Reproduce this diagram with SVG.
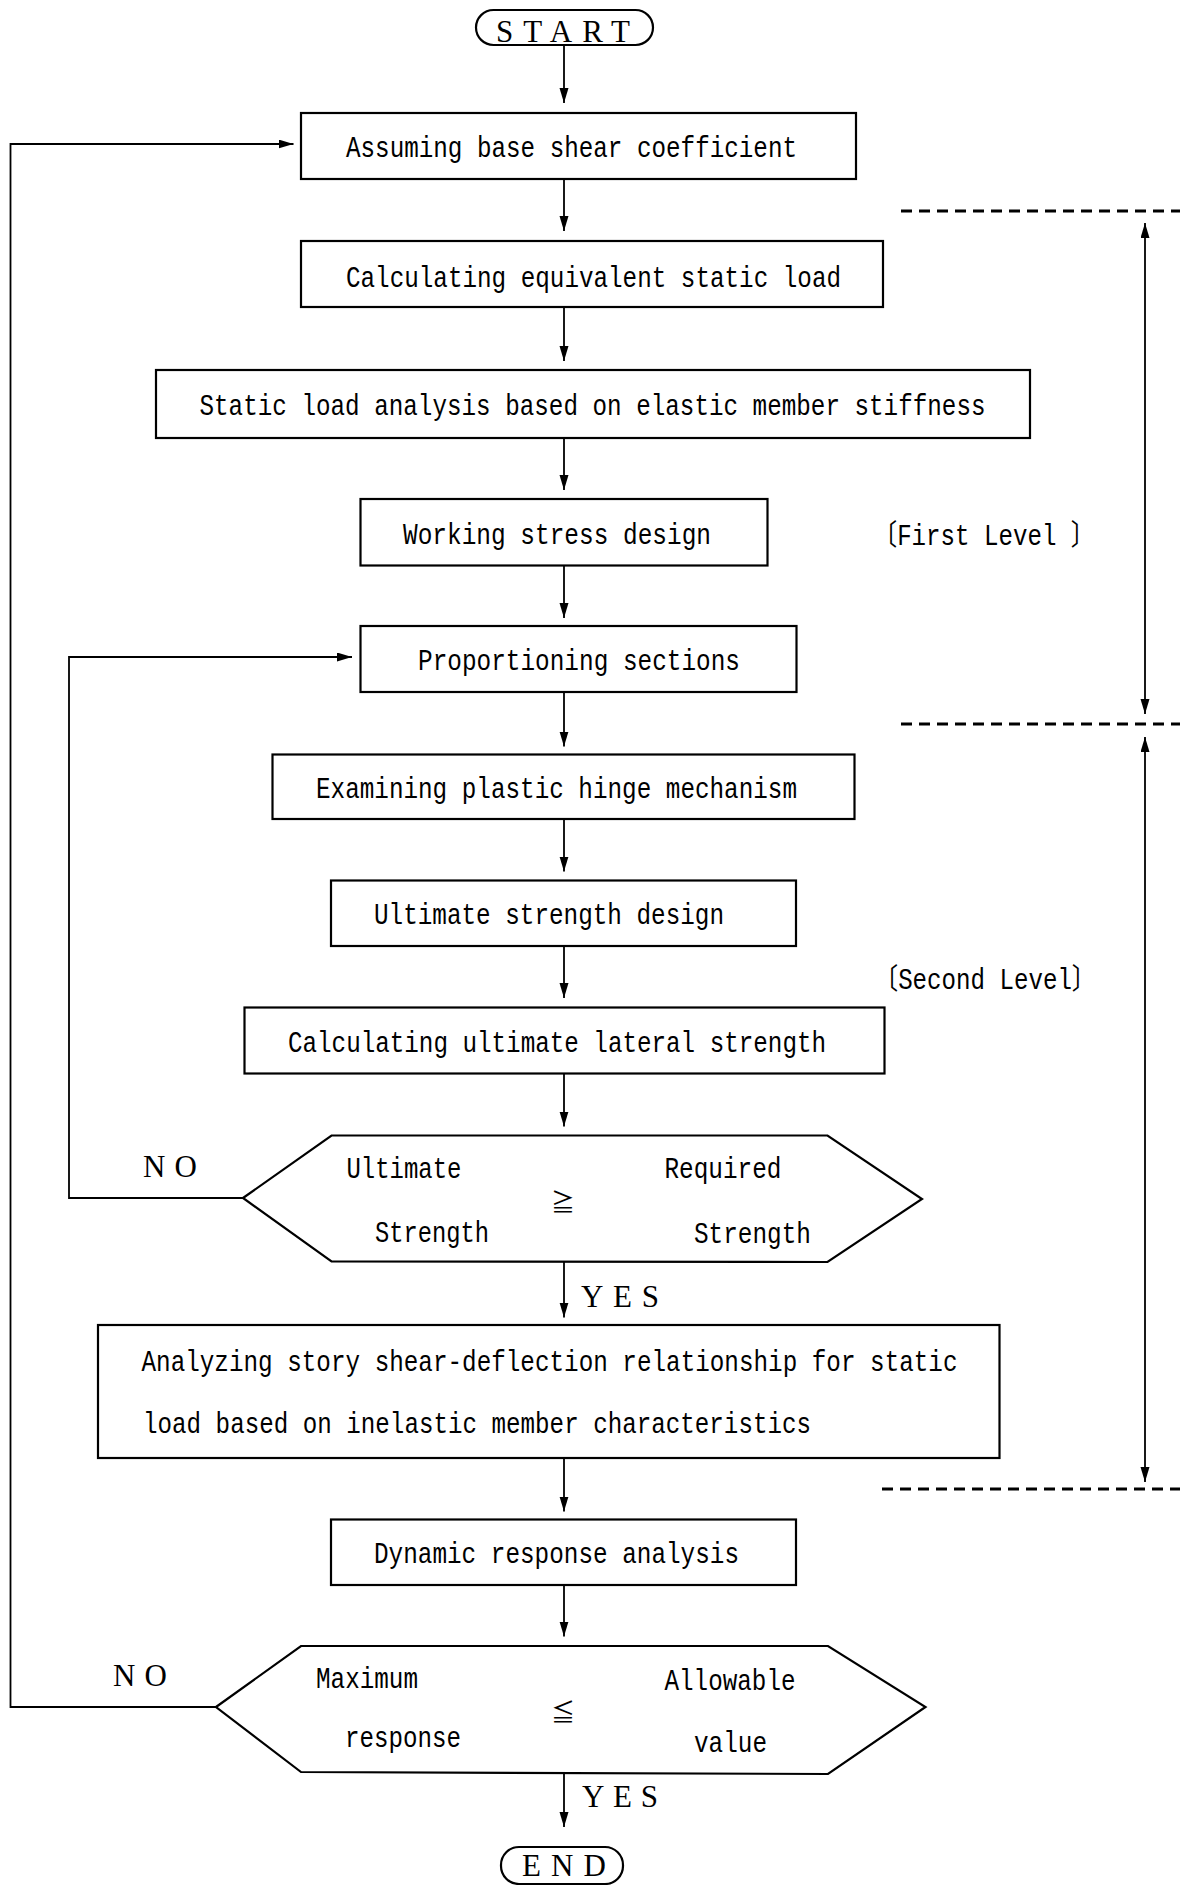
<svg xmlns="http://www.w3.org/2000/svg" width="1180" height="1885" viewBox="0 0 1180 1885">
<style>
.box{fill:#fff;stroke:#000;stroke-width:2.2}
.ln{fill:none;stroke:#000;stroke-width:1.8}
.dash{fill:none;stroke:#000;stroke-width:3;stroke-dasharray:11 7}
.t{font-family:"Liberation Mono","DejaVu Sans Mono",monospace;font-size:29px;fill:#000}
.s{font-family:"Liberation Serif","DejaVu Serif",serif;font-size:31px;fill:#000}
.lv{font-family:"Liberation Mono","Noto Sans CJK JP",monospace;font-size:29px;fill:#000}
.op{font-family:"Noto Sans CJK JP","DejaVu Sans",sans-serif;font-size:24px;fill:#000}
</style>
<defs>
<marker id="ah" markerUnits="userSpaceOnUse" markerWidth="16" markerHeight="10" refX="15" refY="4.5" orient="auto">
<path d="M0,0 L15,4.5 L0,9 z" fill="#000"/>
</marker>
</defs>
<rect width="1180" height="1885" fill="#fff"/>

<g id="connectors">
<line class="ln" x1="564" y1="45" x2="564" y2="103" marker-end="url(#ah)"/>
<line class="ln" x1="564" y1="179" x2="564" y2="231" marker-end="url(#ah)"/>
<line class="ln" x1="564" y1="307" x2="564" y2="361" marker-end="url(#ah)"/>
<line class="ln" x1="564" y1="438" x2="564" y2="490" marker-end="url(#ah)"/>
<line class="ln" x1="564" y1="565.5" x2="564" y2="618" marker-end="url(#ah)"/>
<line class="ln" x1="564" y1="692" x2="564" y2="746.5" marker-end="url(#ah)"/>
<line class="ln" x1="564" y1="819" x2="564" y2="871.5" marker-end="url(#ah)"/>
<line class="ln" x1="564" y1="946" x2="564" y2="998" marker-end="url(#ah)"/>
<line class="ln" x1="564" y1="1073.5" x2="564" y2="1126.5" marker-end="url(#ah)"/>
<line class="ln" x1="564" y1="1262" x2="564" y2="1317.5" marker-end="url(#ah)"/>
<line class="ln" x1="564" y1="1458" x2="564" y2="1511.5" marker-end="url(#ah)"/>
<line class="ln" x1="564" y1="1585" x2="564" y2="1636.5" marker-end="url(#ah)"/>
<line class="ln" x1="564" y1="1773" x2="564" y2="1827" marker-end="url(#ah)"/>
<polyline class="ln" points="243,1198 69,1198 69,657 352,657" marker-end="url(#ah)"/>
<polyline class="ln" points="216,1707 10.5,1707 10.5,144 293.5,144" marker-end="url(#ah)"/>
<line class="ln" x1="1145" y1="468" x2="1145" y2="223" marker-end="url(#ah)"/>
<line class="ln" x1="1145" y1="468" x2="1145" y2="714" marker-end="url(#ah)"/>
<line class="ln" x1="1145" y1="1110" x2="1145" y2="737" marker-end="url(#ah)"/>
<line class="ln" x1="1145" y1="1110" x2="1145" y2="1482" marker-end="url(#ah)"/>
<line class="dash" x1="901" y1="211" x2="1180" y2="211"/>
<line class="dash" x1="901" y1="724" x2="1180" y2="724"/>
<line class="dash" x1="882" y1="1489" x2="1180" y2="1489"/>
<text class="s" x="143" y="1177" textLength="54" lengthAdjust="spacing">NO</text>
<text class="s" x="113" y="1686" textLength="54" lengthAdjust="spacing">NO</text>
<text class="s" x="581" y="1307" textLength="78" lengthAdjust="spacing">YES</text>
<text class="s" x="582" y="1807" textLength="76" lengthAdjust="spacing">YES</text>
</g>

<g id="start">
<rect class="box" x="476" y="10" width="177" height="35" rx="17.5"/>
<text class="s" x="496" y="42" textLength="134" lengthAdjust="spacing">START</text>
</g>
<g id="n1">
<rect class="box" x="301" y="113" width="555" height="66"/>
<text class="t" x="346" y="157" textLength="451" lengthAdjust="spacingAndGlyphs">Assuming base shear coefficient</text>
</g>
<g id="n2">
<rect class="box" x="301" y="241" width="582" height="66"/>
<text class="t" x="346" y="287" textLength="495" lengthAdjust="spacingAndGlyphs">Calculating equivalent static load</text>
</g>
<g id="n3">
<rect class="box" x="156" y="370" width="874" height="68"/>
<text class="t" x="199.5" y="415" textLength="786" lengthAdjust="spacingAndGlyphs">Static load analysis based on elastic member stiffness</text>
</g>
<g id="n4">
<rect class="box" x="360.5" y="499" width="407" height="66.5"/>
<text class="t" x="403" y="543.5" textLength="308" lengthAdjust="spacingAndGlyphs">Working stress design</text>
</g>
<g id="n5">
<rect class="box" x="360.5" y="626" width="436" height="66"/>
<text class="t" x="418" y="670" textLength="322" lengthAdjust="spacingAndGlyphs">Proportioning sections</text>
</g>
<g id="n6">
<rect class="box" x="272.5" y="754.5" width="582" height="64.5"/>
<text class="t" x="316" y="797.5" textLength="481" lengthAdjust="spacingAndGlyphs">Examining plastic hinge mechanism</text>
</g>
<g id="n7">
<rect class="box" x="331" y="880.5" width="465" height="65.5"/>
<text class="t" x="374" y="924" textLength="350" lengthAdjust="spacingAndGlyphs">Ultimate strength design</text>
</g>
<g id="n8">
<rect class="box" x="244.5" y="1007.5" width="640" height="66"/>
<text class="t" x="288" y="1051.5" textLength="538" lengthAdjust="spacingAndGlyphs">Calculating ultimate lateral strength</text>
</g>
<g id="d1">
<polygon class="box" points="243,1198 331.5,1135.5 827.5,1135.5 922,1199 827.5,1262 331.5,1261.5"/>
<text class="t" x="346.5" y="1177.5" textLength="115" lengthAdjust="spacingAndGlyphs">Ultimate</text>
<text class="t" x="664.5" y="1178" textLength="117" lengthAdjust="spacingAndGlyphs">Required</text>
<text class="op" x="563" y="1211" text-anchor="middle">≧</text>
<text class="t" x="375" y="1241.5" textLength="114" lengthAdjust="spacingAndGlyphs">Strength</text>
<text class="t" x="694" y="1242.5" textLength="117" lengthAdjust="spacingAndGlyphs">Strength</text>
</g>
<g id="n9">
<rect class="box" x="98" y="1325" width="901.5" height="133"/>
<text class="t" x="141.5" y="1370.5" textLength="816" lengthAdjust="spacingAndGlyphs">Analyzing story shear-deflection relationship for static</text>
<text class="t" x="143" y="1433" textLength="668" lengthAdjust="spacingAndGlyphs">load based on inelastic member characteristics</text>
</g>
<g id="n10">
<rect class="box" x="331" y="1519.5" width="465" height="65.5"/>
<text class="t" x="374" y="1563" textLength="365" lengthAdjust="spacingAndGlyphs">Dynamic response analysis</text>
</g>
<g id="d2">
<polygon class="box" points="216,1707 301,1646 828,1646 925.5,1707 828,1774 301,1772"/>
<text class="t" x="316" y="1688" textLength="102" lengthAdjust="spacingAndGlyphs">Maximum</text>
<text class="t" x="664.5" y="1690" textLength="131" lengthAdjust="spacingAndGlyphs">Allowable</text>
<text class="op" x="563" y="1721" text-anchor="middle">≦</text>
<text class="t" x="345" y="1747" textLength="116" lengthAdjust="spacingAndGlyphs">response</text>
<text class="t" x="694" y="1752" textLength="73" lengthAdjust="spacingAndGlyphs">value</text>
</g>
<g id="end">
<rect class="box" x="501" y="1847" width="122" height="37" rx="18"/>
<text class="s" x="522" y="1876" textLength="84" lengthAdjust="spacing">END</text>
</g>
<g id="levels">
<text class="lv" x="873" y="545" textLength="222" lengthAdjust="spacingAndGlyphs">〔First Level 〕</text>
<text class="lv" x="874" y="989" textLength="222" lengthAdjust="spacingAndGlyphs">〔Second Level〕</text>
</g>
</svg>
